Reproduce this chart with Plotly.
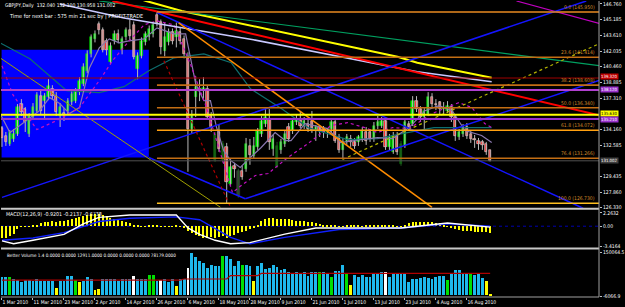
import plotly.graph_objects as go

# ---------------- data ----------------
tick_labels = ["1 Mar 2010", "11 Mar 2010", "23 Mar 2010", "2 Apr 2010", "14 Apr 2010",
               "26 Apr 2010", "6 May 2010", "18 May 2010", "28 May 2010", "9 Jun 2010",
               "21 Jun 2010", "1 Jul 2010", "13 Jul 2010", "23 Jul 2010", "4 Aug 2010",
               "16 Aug 2010"]
tick_bars = [0, 8, 16, 24, 32, 40, 48, 56, 64, 72, 80, 88, 96, 104, 112, 120]

opens = [
    134.3, 133.54, 132.71, 133.2, 133.7, 136.7, 136.2, 133.7, 135.4, 136.0,
    137.5, 137.0, 137.4, 138.2, 137.5, 135.5, 135.8, 136.0, 136.9, 137.0,
    137.9, 138.7, 140.0, 141.7, 143.2, 144.7, 144.1, 143.0, 140.9, 143.0,
    143.7, 142.1, 143.4, 144.1, 144.6, 140.2, 141.55, 142.9, 143.4, 143.7,
    145.7, 145.0, 142.05, 142.9, 143.9, 143.4, 143.9, 143.2, 141.55, 134.2,
    137.4, 138.2, 138.0, 138.2, 135.5, 131.1, 133.87, 131.04, 132.4, 128.7,
    130.5, 127.5, 130.0, 130.2, 132.54, 131.5, 132.37, 133.7, 134.7, 135.2,
    132.2, 130.4, 132.04, 132.7, 134.37, 134.04, 134.87, 135.21, 134.54, 134.71,
    135.04, 134.04, 134.37, 134.21, 133.87, 134.21, 134.87, 133.37, 132.04, 132.87,
    133.2, 132.87, 132.87, 133.2, 133.87, 133.87, 133.2, 134.54, 134.54, 135.04,
    132.37, 131.9, 133.54, 130.7, 132.54, 134.71, 134.71, 137.04, 136.21, 135.37,
    135.71, 137.38, 136.71, 136.88, 136.2, 136.04, 136.37, 135.37, 133.37, 133.71,
    134.37, 133.71, 133.2, 133.04, 132.9, 132.7, 132.04]
highs = [
    134.5, 133.9, 134.1, 134.2, 136.7, 137.2, 136.4, 135.8, 136.8, 137.9,
    138.1, 137.8, 139.2, 138.6, 137.9, 136.8, 136.3, 137.3, 138.0, 138.3,
    139.4, 140.8, 142.1, 143.7, 144.1, 145.0, 144.4, 143.3, 142.9, 144.1,
    144.2, 143.5, 144.4, 145.2, 145.0, 141.9, 143.4, 144.0, 144.6, 144.9,
    145.95, 145.2, 144.9, 144.3, 144.3, 144.9, 144.4, 143.6, 141.9, 136.1,
    139.5, 139.2, 139.4, 138.6, 135.9, 133.9, 134.7, 133.0, 132.8, 131.2,
    130.8, 130.2, 130.5, 133.3, 133.2, 133.4, 134.3, 135.5, 136.2, 136.2,
    133.6, 132.9, 133.2, 134.0, 134.8, 135.3, 135.7, 136.0, 135.4, 135.2,
    136.0, 134.6, 134.6, 134.5, 134.3, 135.2, 135.1, 133.7, 133.3, 133.7,
    133.6, 133.3, 133.6, 134.4, 134.4, 134.2, 134.9, 135.5, 135.4, 135.4,
    133.7, 133.9, 133.9, 133.0, 135.2, 135.0, 137.5, 137.5, 136.5, 136.3,
    137.9, 137.8, 137.2, 137.0, 136.9, 137.0, 136.7, 135.7, 134.2, 134.7,
    134.8, 134.0, 133.6, 133.3, 133.1, 132.9, 132.1]
lows = [
    132.4, 132.5, 132.5, 132.9, 133.5, 135.5, 133.9, 133.4, 135.1, 135.8,
    135.6, 135.3, 137.1, 137.2, 135.5, 134.4, 135.0, 135.7, 136.6, 136.8,
    137.6, 138.5, 139.8, 141.4, 142.9, 143.7, 141.9, 141.6, 140.7, 142.7,
    142.8, 141.7, 143.1, 143.1, 141.2, 139.2, 141.3, 142.6, 143.1, 143.4,
    144.5, 141.7, 141.5, 142.6, 142.7, 142.4, 142.7, 141.3, 129.9, 133.7,
    135.4, 137.0, 137.1, 135.2, 133.9, 130.9, 131.9, 130.8, 126.73, 128.5,
    129.3, 127.3, 129.1, 129.9, 130.6, 131.2, 132.1, 133.4, 134.4, 132.1,
    131.5, 130.3, 131.7, 132.4, 132.9, 133.7, 134.6, 134.3, 134.2, 133.9,
    133.8, 133.0, 133.4, 133.3, 133.3, 133.8, 132.8, 131.8, 131.2, 132.6,
    132.4, 132.2, 132.5, 132.9, 132.6, 132.9, 132.9, 134.2, 134.3, 132.1,
    132.0, 131.7, 131.6, 130.5, 132.3, 134.1, 134.5, 135.9, 134.9, 134.1,
    135.5, 136.4, 136.1, 135.6, 135.7, 135.8, 134.9, 133.0, 133.1, 133.4,
    133.2, 132.8, 132.3, 132.1, 132.1, 131.6, 130.958]
closes = [
    133.3, 132.87, 133.87, 133.7, 136.4, 135.9, 134.9, 135.5, 136.4, 137.6,
    136.0, 137.5, 138.5, 137.5, 135.9, 136.4, 135.6, 137.0, 137.7, 138.0,
    139.0, 140.4, 141.7, 143.4, 143.7, 144.1, 142.1, 142.1, 142.5, 143.7,
    143.1, 143.2, 144.1, 143.5, 141.4, 141.55, 143.05, 143.7, 144.2, 144.6,
    144.9, 142.4, 143.4, 143.9, 143.05, 144.06, 143.05, 141.7, 134.2, 135.5,
    138.4, 138.0, 138.3, 135.4, 134.4, 133.7, 132.2, 132.7, 128.9, 130.4,
    130.2, 130.0, 129.4, 132.7, 131.54, 132.5, 134.04, 135.04, 135.4, 132.9,
    133.2, 132.5, 132.87, 133.7, 133.2, 135.04, 135.21, 134.54, 135.04, 134.21,
    134.04, 134.37, 134.04, 133.87, 133.95, 134.87, 133.04, 132.04, 132.87, 133.37,
    132.87, 132.54, 133.37, 134.04, 133.04, 133.2, 134.54, 134.87, 135.04, 132.37,
    133.37, 133.54, 131.87, 132.7, 134.87, 134.37, 137.04, 136.21, 135.37, 136.04,
    137.38, 136.71, 136.6, 136.21, 136.3, 136.54, 135.37, 133.54, 133.87, 134.37,
    133.54, 133.2, 133.1, 132.71, 132.6, 131.9, 131.002]
dark_green_bars = [55, 57, 71, 103]
dark_grey_bars = [61]

price_ticks = [146.760, 145.185, 143.610, 142.035, 140.460, 138.885, 137.310,
               134.160, 132.585, 129.435, 127.860, 126.330]

fib_prices = [145.950, 141.414, 138.608, 136.340, 134.072, 131.266, 126.730]
fib_names = ["0.0", "23.6", "38.2", "50.0", "61.8", "76.4", "100.0"]
fib_start_bar = 40

h_levels = [139.320, 138.120, 135.630, 135.210, 131.002]
h_level_labels = ["139.320", "138.120", "135.630", "135.210", "131.002"]

box_bar_range = [-0.1, 37.9]
box_price_range = [131.34, 142.15]

# trend lines: (bar0, price0, bar1, price1)
tl_red = [28.5, 147.06, 154.6, 135.54]
tl_green = [25.1, 147.06, 154.6, 140.55]
tl_magenta = [132.8, 147.06, 154.6, 144.76]
tl_blue_up1 = [0.0, 127.33, 150.8, 147.06]
tl_blue_up2 = [62.8, 127.19, 154.1, 139.07]
tl_blue_dn1 = [40.0, 145.9, 150.0, 126.23]
tl_blue_dn2 = [37.9, 131.34, 62.8, 127.19]
tl_olive = [-0.5, 141.35, 56.4, 126.33]
tl_orange = [45.6, 144.86, 111.0, 126.33]
tl_olive_dot = [87.9, 131.14, 154.6, 142.85]
tl_red_dot = [41.8, 141.05, 59.0, 126.33]

ma_yellow_bars = [27.7, 37.2, 46.4, 102.1, 107.2, 126.4]
ma_yellow_vals = [148.26, 147.06, 146.06, 141.45, 140.85, 139.35]
ma_lav_bars = [14.9, 31.5, 64.9, 107.2, 126.4]
ma_lav_vals = [146.76, 145.36, 143.16, 139.95, 138.95]
ma_teal_bars = [-0.5, 7.2, 16.7, 25.1, 31.5, 37.9, 44.4, 52.1, 59.2, 64.1, 72.1, 79.0,
                89.2, 96.9, 103.3, 111.5, 126.4]
ma_teal_vals = [142.85, 141.25, 138.05, 137.85, 138.45, 140.05, 141.35, 141.75, 140.85,
                138.25, 136.25, 134.34, 133.14, 133.24, 133.74, 134.34, 134.34]
ma_fast_bars = [-0.5, 2.05, 4.6, 9.7, 12.3, 14.9, 17.4, 20.0, 22.6, 25.1, 27.7, 30.3, 32.8,
                36.7, 40.0, 44.4, 47.4, 48.7, 50.0, 52.1, 53.8, 55.4, 57.2, 59.0, 61.5,
                64.1, 66.9, 70.5, 73.1, 74.6, 78.2, 84.1, 87.4, 91.0, 96.9, 100.8, 105.1,
                109.2, 112.8, 116.2, 119.5, 123.8, 126.4]
ma_fast_vals = [135.75, 133.84, 134.54, 136.04, 137.35, 136.75, 135.75, 136.35, 140.35,
                142.35, 143.25, 142.85, 143.05, 143.25, 144.36, 143.75, 143.75, 141.05,
                138.75, 137.05, 137.05, 134.34, 132.04, 131.04, 130.34, 131.34, 132.34,
                133.84, 133.04, 133.04, 134.74, 134.24, 132.84, 133.04, 133.34, 133.24,
                134.34, 136.04, 136.55, 136.04, 134.04, 133.54, 132.84]
ma_dot_bars = [0, 2.8, 9.0, 14.1, 20.0, 25.1, 28.5, 32.8, 36.7, 40.0, 44.4, 48.7, 52.8,
               56.5, 59.5, 62.0, 65.4, 68.7, 73.8, 79.0, 84.9, 89.2, 93.6, 96.9, 100.8,
               105.1, 111.0, 117.9, 121.3, 124.6, 126.4]
ma_dot_vals = [140.55, 137.65, 134.14, 135.04, 136.34, 139.05, 141.05, 143.05, 144.66,
               145.06, 144.66, 140.65, 136.34, 131.6, 127.8, 128.6, 129.53, 129.73,
               131.34, 132.74, 134.54, 134.84, 134.34, 133.84, 134.34, 134.24, 135.75,
               136.85, 136.35, 134.74, 134.34]

macd_hist = [
    -1.9, -1.9, -1.6, -1.3, -0.4, -0.1, -0.1, -0.05, 0.1, 0.3,
    0.5, 0.7, 0.8, 0.9, 0.8, 0.9, 1.0, 1.1, 1.3, 1.4,
    1.6, 1.8, 2.0, 2.2, 2.2, 2.1, 2.0, 1.7, 1.5, 1.3,
    1.1, 0.9, 0.8, 0.6, 0.2, 0.1, 0.05, 0.05, 0.1, 0.1,
    0.1, 0.05, 0.05, 0.05, 0.05, 0.1, 0.05, -0.2, -0.8, -1.2,
    -1.4, -1.6, -1.9, -1.9, -1.8, -1.9, -1.8, -1.7, -1.9, -1.6,
    -1.4, -1.2, -1.0, -0.8, -0.4, -0.3, 0.2, 0.9, 1.3, 1.4,
    1.4, 1.3, 1.3, 1.2, 1.2, 1.1, 1.0, 1.0, 0.9, 0.8,
    0.7, 0.5, 0.4, 0.3, 0.2, 0.2, 0.1, 0.05, -0.05, 0.1,
    0.1, 0.1, 0.1, 0.05, 0.1, 0.3, 0.3, 0.2, 0.1, 0.1,
    0.1, 0.1, 0.05, 0.05, 0.3, 0.6, 0.8, 0.8, 0.7, 0.8,
    0.8, 0.7, 0.6, 0.5, 0.3, 0.05, -0.3, -0.5, -0.6, -0.7,
    -0.8, -0.8, -0.9, -0.9, -0.9, -0.9, -1.1]
macd_main_bars = [0, 3, 8, 16, 21, 25, 33, 45, 48, 51, 55, 59, 64, 73, 81, 90, 103, 115, 126]
macd_main_vals = [-2.5, -3.0, -2.4, -1.4, 0.4, 1.5, 1.9, 1.9, -0.3, -1.4, -2.4, -3.0, -2.8,
                  -1.35, -0.3, -0.3, -0.3, 0.55, -0.15]
macd_sig_bars = [0, 8, 16, 25, 33, 45, 51, 59, 64, 73, 87, 103, 115, 126]
macd_sig_vals = [-2.4, -2.0, -1.1, 0.8, 1.35, 1.6, 1.1, -1.9, -3.0, -1.9, -0.55, -0.3, 0.4, 0.0]
macd_ticks = [2.2632, 0.0, -3.4164]
macd_tick_text = ["2.2632", "0.00", "-3.4164"]

volume = [
    64600, 64600, 64600, 56000, 52300, 48000, 52300, 52300, 49700, 58000,
    49700, 49700, 49700, 49700, 27400, 49700, 49700, 68300, 68300, 52300,
    46000, 49700, 64600, 56000, 18800, 23000, 56000, 56000, 56000, 56000,
    49700, 56000, 56000, 56000, 68300, 56000, 56000, 56000, 70800, 70800,
    49700, 52300, 56000, 46000, 56000, 31000, 56000, 56000, 95500, 149000,
    132700, 120300, 114100, 95500, 108000, 101700, 101700, 138900, 138900, 126000,
    101700, 120300, 108000, 108000, 101700, 49700, 101700, 114000, 93200, 95500,
    108000, 99200, 89500, 93200, 83200, 76900, 83200, 76900, 83200, 68300,
    80700, 83200, 80700, 80700, 76900, 64600, 85800, 85800, 108000, 79400,
    36000, 70800, 64600, 70800, 64600, 64600, 73200, 73200, 83200, 80700,
    64600, 73200, 73200, 73200, 73200, 46000, 56000, 56000, 60700, 64600,
    60700, 56000, 64600, 68300, 68300, 52300, 76900, 89500, 89500, 76900,
    76900, 76900, 70800, 76900, 60700, 49700, 5100]
volume_kind = [
    "c", "c", "g", "c", "c", "c", "c", "c", "c", "c",
    "c", "c", "c", "c", "y", "c", "c", "c", "c", "g",
    "y", "c", "c", "c", "y", "y", "c", "c", "c", "c",
    "c", "c", "c", "c", "w", "c", "c", "c", "g", "g",
    "c", "w", "c", "c", "c", "y", "c", "c", "w", "c",
    "c", "c", "c", "c", "c", "c", "c", "g", "c", "c",
    "c", "c", "g", "c", "c", "y", "c", "c", "c", "c",
    "c", "c", "c", "c", "c", "c", "c", "c", "c", "c",
    "c", "c", "g", "c", "c", "g", "c", "c", "c", "g",
    "y", "c", "c", "c", "c", "c", "c", "c", "c", "w",
    "c", "c", "c", "c", "c", "c", "c", "c", "c", "c",
    "c", "c", "c", "c", "c", "g", "c", "c", "c", "c",
    "c", "g", "c", "c", "c", "y", "y"]
vol_ma_bars = [0, 46, 47, 58, 59, 66, 67, 126]
vol_ma_vals = [52000, 52000, 56000, 56000, 68000, 68000, 76000, 76000]
vol_ticks = [150064.5, -6066.9]
vol_tick_text = ["150064.5", "-6066.9"]

header_1 = "GBPJPY,Daily  132.040 132.100 130.958 131.002"
header_2 = "Time for next bar : 575 min 21 sec by | PROFIT-TRADE"
macd_title = "MACD(12,26,9) -0.9201 -0.2137 -0.6738"
vol_title = "Better Volume 1.4 0.0000 0.0000 12911.0000 0.0000 0.0000 0.0000 78179.0000"

# ---------------- figure ----------------
FONT = "Liberation Sans Narrow, DejaVu Sans Condensed, Liberation Sans, Arial, sans-serif"
N = len(opens)
idx = list(range(N))
X_RANGE = [-0.256, 154.1]
H = 297.0  # plot area height in px


def pfrac(px):
    return 1 - px / H


fig = go.Figure()

shapes = [dict(type="rect", xref="x", yref="y", x0=box_bar_range[0], x1=box_bar_range[1],
               y0=box_price_range[0], y1=box_price_range[1], fillcolor="#0000FF",
               line=dict(width=0), layer="below")]

special = set(dark_green_bars) | set(dark_grey_bars)

# wicks
wx, wy, dwx, dwy = [], [], [], []
for i in idx:
    if i in special:
        dwx += [i, i, None]
        dwy += [lows[i], highs[i], None]
    else:
        wx += [i, i, None]
        wy += [lows[i], highs[i], None]
fig.add_trace(go.Scatter(x=wx, y=wy, mode="lines", line=dict(color="#B8B8B8", width=1),
                         hoverinfo="skip", showlegend=False))
fig.add_trace(go.Scatter(x=dwx, y=dwy, mode="lines", line=dict(color="#1E5A1E", width=1),
                         hoverinfo="skip", showlegend=False))

base, height, fill, edge = [], [], [], []
for i in idx:
    o, c = opens[i], closes[i]
    base.append(min(o, c))
    height.append(max(abs(c - o), 0.06))
    if i in dark_green_bars:
        fill.append("#0B6B0B"); edge.append("#0B6B0B")
    elif i in dark_grey_bars:
        fill.append("#3A3A3A"); edge.append("#3A3A3A")
    elif c > o:
        fill.append("#00FF00"); edge.append("#00C800")
    elif c < o:
        fill.append("#FF1A1A"); edge.append("#F0F0F0")
    else:
        fill.append("#C0C0C0"); edge.append("#C0C0C0")
fig.add_trace(go.Bar(x=idx, y=height, base=base, width=0.62,
                     marker=dict(color=fill, line=dict(color=edge, width=0.6)),
                     hoverinfo="skip", showlegend=False))


def add_line(bars, vals, color, width=1, dash="solid", axis="y"):
    fig.add_trace(go.Scatter(x=bars, y=vals, mode="lines", yaxis=axis,
                             line=dict(color=color, width=width, dash=dash),
                             hoverinfo="skip", showlegend=False))


def add_tl(tl, color, width=1, dash="solid"):
    add_line([tl[0], tl[2]], [tl[1], tl[3]], color, width, dash)


# moving averages
add_line(ma_teal_bars, ma_teal_vals, "#0E6E6E", 1.2)
add_line(ma_fast_bars, ma_fast_vals, "#8A78B0", 1.2)
add_line(ma_dot_bars, ma_dot_vals, "#C010C0", 1.2, "dot")
add_line(ma_yellow_bars, ma_yellow_vals, "#FFFF00", 2)
add_line(ma_lav_bars, ma_lav_vals, "#C8C8FF", 1.6)

# trend lines
add_tl(tl_green, "#00A060", 1.2)
add_tl(tl_red, "#FF0000", 2)
add_tl(tl_magenta, "#C000C0", 1.2)
add_tl(tl_blue_up1, "#1414FF", 1.5)
add_tl(tl_blue_up2, "#1414FF", 1.5)
add_tl(tl_blue_dn1, "#1414FF", 1.5)
add_tl(tl_blue_dn2, "#1414FF", 1.5)
add_tl(tl_olive, "#A0A000", 1)
add_tl(tl_orange, "#FF8C00", 1.5)
add_tl(tl_olive_dot, "#B4B400", 1.2, "dot")
add_tl(tl_red_dot, "#B00000", 1.2, "dot")

# horizontal level lines
h_colors = ["#A00000", "#B040D0", "#FFFF00", "#9932CC", "#505050"]
h_widths = [1, 2, 2, 2, 1]
for lv, col, w in zip(h_levels, h_colors, h_widths):
    shapes.append(dict(type="line", xref="paper", yref="y", x0=0, x1=1, y0=lv, y1=lv,
                       line=dict(color=col, width=w), layer="above"))

# fibonacci levels
fib_colors = ["#E88A20", "#C46E14", "#C46E14", "#C46E14", "#FFA010", "#C46E14", "#FFC020"]
annotations = []
for fp, fn, col in zip(fib_prices, fib_names, fib_colors):
    shapes.append(dict(type="line", xref="x", yref="y", x0=fib_start_bar, x1=X_RANGE[1],
                       y0=fp, y1=fp, line=dict(color=col, width=1.6), layer="above"))
    annotations.append(dict(x=0.997, y=fp, xref="paper", yref="y", xanchor="right",
                            yanchor="bottom", text=f"{fn} ({fp:.3f})", showarrow=False,
                            font=dict(family=FONT, size=5, color="#D08A2A")))

# macd panel
fig.add_trace(go.Bar(x=idx, y=macd_hist, yaxis="y2", width=0.3,
                     marker=dict(color="#FFFF00", line=dict(width=0)),
                     hoverinfo="skip", showlegend=False))
add_line(macd_sig_bars, macd_sig_vals, "#1020FF", 1.4, axis="y2")
add_line(macd_main_bars, macd_main_vals, "#FFFFFF", 1.4, axis="y2")
shapes.append(dict(type="line", xref="paper", yref="y2", x0=0, x1=1, y0=0, y1=0,
                   line=dict(color="#0000B0", width=1, dash="dot"), layer="below"))

# volume panel
kind_color = {"c": "#1EB8EC", "g": "#00E000", "y": "#FFFF00", "w": "#FFFFFF"}
fig.add_trace(go.Bar(x=idx, y=volume, yaxis="y3", width=0.74,
                     marker=dict(color=[kind_color[k] for k in volume_kind], line=dict(width=0)),
                     hoverinfo="skip", showlegend=False))
add_line(vol_ma_bars, vol_ma_vals, "#B00000", 1.2, axis="y3")

# panel borders / separators
for py in [208.4, 248.4]:
    shapes.append(dict(type="line", xref="paper", yref="paper", x0=0, x1=1,
                       y0=pfrac(py), y1=pfrac(py), line=dict(color="#C8C8C8", width=2)))
shapes.append(dict(type="line", xref="paper", yref="paper", x0=0, x1=1,
                   y0=pfrac(297), y1=pfrac(297), line=dict(color="#A0A0A0", width=1)))
shapes.append(dict(type="line", xref="paper", yref="paper", x0=1, x1=1, y0=0, y1=1,
                   line=dict(color="#A0A0A0", width=1)))

# right-side price boxes
box_bg = ["#C00000", "#9932CC", "#FFFF00", "#9932CC", "#404040"]
box_fg = ["#FFFFFF", "#FFFFFF", "#000000", "#FFFFFF", "#FFFFFF"]
box_shift = [2, 0, 1, -1, 0]
for lv, txt, bg, fg, ys in zip(h_levels, h_level_labels, box_bg, box_fg, box_shift):
    annotations.append(dict(x=1, y=lv, xref="paper", yref="y", xanchor="left", yanchor="middle",
                            xshift=1, yshift=ys, text=txt, showarrow=False, bgcolor=bg,
                            borderpad=0, font=dict(family=FONT, size=4.3, color=fg)))

# texts
annotations += [
    dict(x=2 / 602, y=pfrac(5), xref="paper", yref="paper", xanchor="left", yanchor="middle",
         text=header_1, showarrow=False, font=dict(family=FONT, size=5, color="#FFFFFF")),
    dict(x=6 / 602, y=pfrac(16), xref="paper", yref="paper", xanchor="left", yanchor="middle",
         text=header_2, showarrow=False, font=dict(family=FONT, size=5.5, color="#FFFFFF")),
    dict(x=3 / 602, y=pfrac(214), xref="paper", yref="paper", xanchor="left", yanchor="middle",
         text=macd_title, showarrow=False, font=dict(family=FONT, size=5.3, color="#FFFFFF")),
    dict(x=4 / 602, y=pfrac(255), xref="paper", yref="paper", xanchor="left", yanchor="middle",
         text=vol_title, showarrow=False, font=dict(family=FONT, size=4.6, color="#FFFFFF")),
]

tickfont = dict(family=FONT, size=5, color="#FFFFFF")
fig.update_layout(
    width=625, height=307,
    margin=dict(l=1, r=22, t=0, b=10),
    paper_bgcolor="#000000", plot_bgcolor="#000000",
    barmode="overlay", bargap=0, showlegend=False,
    shapes=shapes, annotations=annotations,
    xaxis=dict(domain=[0, 1], range=X_RANGE, anchor="y3", tickmode="array",
               tickvals=tick_bars, ticktext=tick_labels, tickfont=tickfont, tickangle=0,
               ticks="outside", ticklen=2, tickcolor="#C0C0C0",
               ticklabelposition="outside right", showgrid=False, zeroline=False,
               showline=False, fixedrange=True),
    yaxis=dict(domain=[pfrac(207.5), 1], range=[126.28, 147.06], side="right", anchor="x",
               tickmode="array", tickvals=price_ticks,
               ticktext=[f"{v:.3f}" for v in price_ticks], tickfont=tickfont,
               ticks="outside", ticklen=2, tickcolor="#C0C0C0",
               showgrid=False, zeroline=False, showline=False),
    yaxis2=dict(domain=[pfrac(247.5), pfrac(209.5)], range=[-3.66, 2.80], side="right",
                anchor="x", tickmode="array", tickvals=macd_ticks, ticktext=macd_tick_text,
                tickfont=tickfont, ticks="outside", ticklen=2, tickcolor="#C0C0C0",
                showgrid=False, zeroline=False, showline=False),
    yaxis3=dict(domain=[0, pfrac(249.5)], range=[-6980, 158790], side="right", anchor="x",
                tickmode="array", tickvals=vol_ticks, ticktext=vol_tick_text,
                tickfont=tickfont, ticks="outside", ticklen=2, tickcolor="#C0C0C0",
                showgrid=False, zeroline=False, showline=False),
)

fig.write_html("out.html")
